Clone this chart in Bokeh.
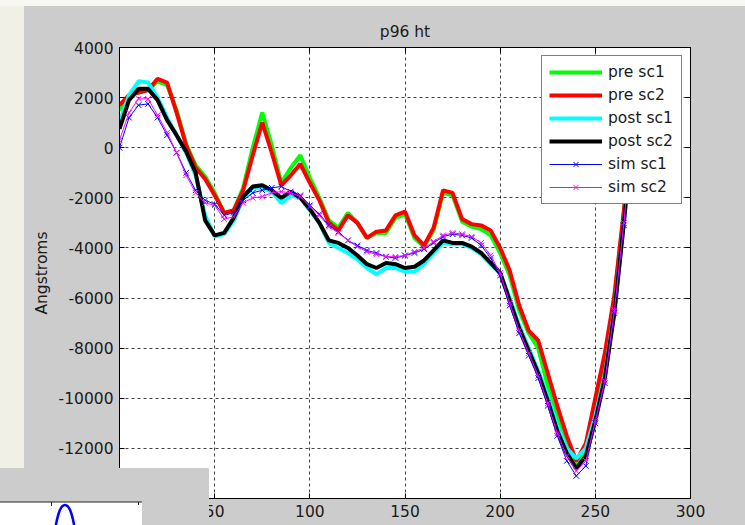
from urllib.parse import quote
from bokeh.plotting import figure
from bokeh.models import (Range1d, LinearAxis, FixedTicker, Legend, LegendItem,
                          InlineStyleSheet)
from bokeh.embed import file_html
from bokeh.resources import INLINE

# ---------------- data ----------------
x = [0, 5, 10, 15, 20, 25, 30, 35, 40, 45, 50, 55, 60, 65, 70, 75, 80, 85, 90, 95,
     100, 105, 110, 115, 120, 125, 130, 135, 140, 145, 150, 155, 160, 165, 170, 175,
     180, 185, 190, 195, 200, 205, 210, 215, 220, 225, 230, 235, 240, 245, 250, 255,
     260, 265, 270]

pre_sc1 = [1500, 2100, 2200, 2300, 2650, 2500, 1500, 150, -700, -1150, -1800, -2600, -2500,
           -1600, 0, 1400, 100, -1400, -800, -300, -1200, -2000, -2900, -3200, -2600, -3000,
           -3600, -3400, -3400, -2800, -2650, -3600, -3950, -3300, -1800, -1900, -2950, -3150,
           -3250, -3500, -4200, -5100, -6500, -7400, -8000, -9500, -10800, -11900, -12700,
           -12000, -10300, -8500, -6000, -2600, 1000]
pre_sc2 = [1700, 2100, 2200, 2300, 2750, 2600, 1400, 100, -800, -1250, -1900, -2600, -2500,
           -1700, -300, 1000, -200, -1500, -1100, -650, -1400, -2100, -3000, -3300, -2700,
           -3000, -3600, -3350, -3300, -2700, -2550, -3500, -3900, -3200, -1700, -1800, -2850,
           -3050, -3100, -3300, -4000, -4900, -6300, -7300, -7700, -9000, -10300, -11500,
           -12500, -11800, -10000, -8200, -5900, -2500, 1000]
post_sc1 = [1000, 2100, 2650, 2600, 2000, 1200, 500, -200, -1100, -2700, -3550, -3450, -2900,
            -2000, -1600, -1600, -1750, -2200, -1900, -2000, -2500, -3000, -3800, -4000, -4200,
            -4450, -4800, -5050, -4800, -4800, -4950, -4950, -4650, -4200, -3800, -3850, -3850,
            -4000, -4250, -4650, -5000, -6000, -7100, -8000, -8900, -9900, -11100, -12000,
            -12400, -12000, -10700, -9100, -6500, -3000, 1000]
post_sc2 = [750, 1900, 2350, 2350, 1900, 1100, 500, -150, -1000, -2900, -3500, -3400, -2800,
            -1950, -1550, -1500, -1700, -2000, -1750, -2000, -2450, -3000, -3700, -3800, -4000,
            -4300, -4650, -4800, -4600, -4650, -4800, -4750, -4500, -4100, -3700, -3800, -3800,
            -3950, -4200, -4600, -5000, -6100, -7200, -8100, -9000, -10100, -11300, -12200,
            -12800, -12300, -10900, -9200, -6600, -3000, 1000]
sim_sc1 = [0, 1200, 1700, 1750, 1200, 500, -200, -1000, -1700, -2100, -2250, -2700, -2600,
           -2100, -1800, -1700, -1600, -1550, -1750, -1900, -2300, -2650, -3100, -3350, -3700,
           -3900, -4100, -4200, -4350, -4400, -4300, -4200, -4050, -3800, -3550, -3450, -3500,
           -3600, -3900, -4400, -5100, -6300, -7400, -8300, -9200, -10300, -11500, -12500,
           -13100, -12700, -11000, -9400, -6600, -3100, 1000]
sim_sc2 = [300, 1400, 1950, 1950, 1300, 600, -200, -1100, -1800, -2200, -2300, -2850, -2750,
           -2200, -2000, -1950, -1800, -1750, -1800, -1950, -2350, -2700, -3150, -3400, -3700,
           -3950, -4150, -4250, -4350, -4350, -4300, -4150, -4000, -3750, -3500, -3400, -3450,
           -3550, -3800, -4300, -5000, -6200, -7300, -8200, -9100, -10200, -11400, -12300,
           -12900, -12500, -10900, -9300, -6500, -3000, 1000]

x_ticks = [0, 50, 100, 150, 200, 250, 300]
y_ticks = [-14000, -12000, -10000, -8000, -6000, -4000, -2000, 0, 2000, 4000]

FONT = "DejaVu Sans"
FS = "15.5px"
TXT = "#1a1a1a"

# ---- surrounding screenshot decoration, drawn over the canvas by a stylesheet ----
deco_svg = (
    "<svg xmlns='http://www.w3.org/2000/svg' width='745' height='525'>"
    "<rect x='0' y='0' width='24' height='468' fill='#f1f0e6'/>"
    "<rect x='0' y='0' width='745' height='6' fill='#f7f7f3'/>"
    "<rect x='0' y='468' width='209' height='57' fill='#cccccc'/>"
    "<rect x='0' y='502' width='142' height='23' fill='#ffffff'/>"
    "<line x1='0' y1='502' x2='142' y2='502' stroke='#222222' stroke-width='1'/>"
    "<line x1='51.5' y1='502' x2='51.5' y2='506' stroke='#222222' stroke-width='1'/>"
    "<line x1='138.5' y1='502' x2='138.5' y2='505' stroke='#222222' stroke-width='1'/>"
    "<path d='M55,530 C58,512 61,505 65,505 C69,505 72,512 75,530' fill='none' "
    "stroke='#0000ff' stroke-width='2.5'/>"
    "</svg>")
css = (":host { position: relative; }\n"
       ":host::after { content: ''; position: absolute; left: 0; top: 0; width: 745px; "
       "height: 525px; z-index: 1000; pointer-events: none; "
       f"background: url(\"data:image/svg+xml;charset=utf8,{quote(deco_svg)}\") no-repeat; }}")

p = figure(width=745, height=525, x_range=Range1d(0, 300), y_range=Range1d(-14000, 4000),
           output_backend="svg", toolbar_location=None, title="p96 ht",
           min_border_left=119, min_border_right=55, min_border_top=47, min_border_bottom=27,
           stylesheets=[InlineStyleSheet(css=css)])
p.border_fill_color = "#cccccc"
p.background_fill_color = "white"
p.outline_line_color = "black"
p.outline_line_width = 1

p.title.align = "center"
p.title.text_font = FONT
p.title.text_font_size = FS
p.title.text_font_style = "normal"
p.title.text_color = TXT
p.title.standoff = 13

for ax in (p.xaxis[0], p.yaxis[0]):
    ax.major_label_text_font = FONT
    ax.major_label_text_font_size = FS
    ax.major_label_text_color = TXT
    ax.major_tick_in = 5
    ax.major_tick_out = 0
    ax.minor_tick_line_color = None
    ax.axis_line_color = "black"
    ax.major_tick_line_color = "black"
    ax.major_label_standoff = 6
p.xaxis.ticker = FixedTicker(ticks=x_ticks)
p.yaxis.ticker = FixedTicker(ticks=y_ticks)
p.xaxis.major_label_overrides = {v: str(v) for v in x_ticks}
p.yaxis.major_label_overrides = {v: str(v) for v in y_ticks}
p.yaxis.axis_label = "Angstroms"
p.yaxis.axis_label_text_font = FONT
p.yaxis.axis_label_text_font_size = FS
p.yaxis.axis_label_text_font_style = "normal"
p.yaxis.axis_label_text_color = TXT
p.yaxis.axis_label_standoff = 5

# box ticks on top and right (no labels)
top = LinearAxis(ticker=FixedTicker(ticks=x_ticks), major_tick_in=5, major_tick_out=0,
                 minor_tick_line_color=None, major_label_text_font_size="1px",
                 major_label_text_color=None, major_label_standoff=0, axis_line_color="black")
right = LinearAxis(ticker=FixedTicker(ticks=y_ticks), major_tick_in=5, major_tick_out=0,
                   minor_tick_line_color=None, major_label_text_font_size="1px",
                   major_label_text_color=None, major_label_standoff=0, axis_line_color="black")
p.add_layout(top, "above")
p.add_layout(right, "right")

for g in (p.xgrid[0], p.ygrid[0]):
    g.grid_line_color = "black"
    g.grid_line_alpha = 0.75
    g.grid_line_dash = "3 3"
p.xgrid.ticker = FixedTicker(ticks=x_ticks)
p.ygrid.ticker = FixedTicker(ticks=y_ticks)

r1 = p.line(x, pre_sc1, color="#00ff00", line_width=4)
r2 = p.line(x, pre_sc2, color="#ff0000", line_width=4)
r3 = p.line(x, post_sc1, color="#00ffff", line_width=4)
r4 = p.line(x, post_sc2, color="black", line_width=4)
r5 = p.line(x, sim_sc1, color="#0000ff", line_width=1)
r5m = p.scatter(x, sim_sc1, marker="x", size=8, line_color="#0000ff", line_width=1)
r6 = p.line(x, sim_sc2, color="#ff00ff", line_width=1)
r6m = p.scatter(x, sim_sc2, marker="x", size=8, line_color="#ff00ff", line_width=1)

legend = Legend(items=[LegendItem(label="pre sc1", renderers=[r1]),
                       LegendItem(label="pre sc2", renderers=[r2]),
                       LegendItem(label="post sc1", renderers=[r3]),
                       LegendItem(label="post sc2", renderers=[r4]),
                       LegendItem(label="sim sc1", renderers=[r5, r5m]),
                       LegendItem(label="sim sc2", renderers=[r6, r6m])],
                location="top_right", margin=8, padding=7, spacing=5,
                glyph_width=53, glyph_height=18, label_height=18, label_width=66,
                label_standoff=6, label_text_font=FONT, label_text_font_size=FS,
                label_text_color=TXT, border_line_color="black", border_line_width=1,
                background_fill_color="white", background_fill_alpha=1)
p.add_layout(legend)

open("out.html", "w").write(file_html(p, INLINE))
